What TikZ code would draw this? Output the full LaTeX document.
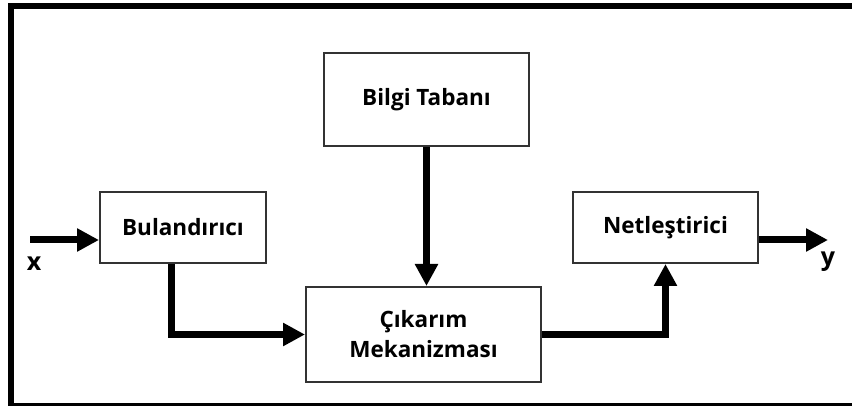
\documentclass[tikz,border=0pt]{standalone}
\usepackage{fontspec}
\setmainfont{Open Sans}
\usetikzlibrary{arrows.meta}

\tikzset{
    blok/.style = {draw = black!80, line width = 2pt, fill = white, align = center,
                   font = \fontsize{22.5}{30}\selectfont\bfseries},
    akis/.style = {line width = 7pt, -{Triangle[length=22pt,width=22pt]}}
}

\begin{document}
\begin{tikzpicture}[x=1pt, y=-1pt]
    \useasboundingbox (0,0) rectangle (852,406);
    \clip (0,0) rectangle (852,406);
    \draw[line width = 6pt] (11,6.5) rectangle (880,406);

    \node[blok, minimum width = 205pt, minimum height = 93pt] (BT) at (426.5,99.5) {Bilgi Tabanı};
    \node[blok, minimum width = 166pt, minimum height = 71pt] (BU) at (183,227.5) {Bulandırıcı};
    \node[blok, minimum width = 185pt, minimum height = 71pt] (NE) at (665.5,227.5) {Netleştirici};
    \node[blok, minimum width = 235pt, minimum height = 95pt] (CM) at (423.5,334.5) {Çıkarım\\Mekanizması};

    \coordinate (XG) at (30,240);
    \coordinate (YC) at (828,240);
    \node[font = \fontsize{25}{30}\selectfont\bfseries] (xl) at (34,264) {x};
    \node[font = \fontsize{25}{30}\selectfont\bfseries] (yl) at (828,262) {y};

    \draw[akis] (XG) -- (XG -| BU.west);
    \draw[akis] (BT.south) -- (BT.south |- CM.north);
    \draw[akis] ([xshift=-12pt]BU.south) |- (CM.west);
    \draw[akis] (CM.east) -| (NE.south);
    \draw[akis] (XG -| NE.east) -- (YC);
\end{tikzpicture}
\end{document}
